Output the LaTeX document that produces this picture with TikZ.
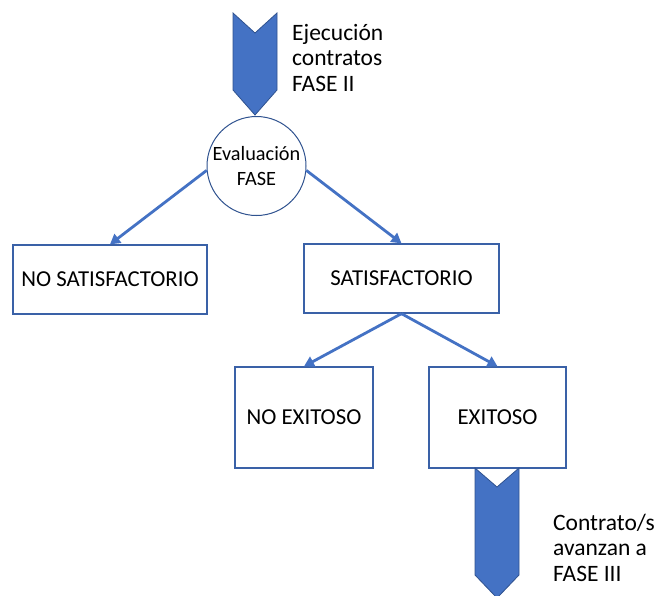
\documentclass[tikz,border=0pt]{standalone}
\usepackage{fontspec}
\setmainfont{Carlito}
\usetikzlibrary{arrows.meta}
\definecolor{oblue}{HTML}{4472C4}
\definecolor{odark}{HTML}{2F528F}
\begin{document}
\begin{tikzpicture}[x=1pt,y=-1pt,
  box/.style={draw=oblue!85!black,line width=1.3pt,fill=white,minimum width=#1,inner sep=0pt},
  boxtext/.style={font=\fontsize{22.8}{26}\selectfont},
  conn/.style={draw=oblue,line width=2.8pt,-{Triangle[length=10pt,width=11pt]}},
  chev/.style={fill=oblue,draw=odark,line width=0.8pt},
  side/.style={font=\fontsize{23.5}{25.5}\selectfont,align=left,anchor=west,inner sep=0pt}]
\useasboundingbox (0,0) rectangle (656,595);
\clip (0,0) rectangle (656,595);
% top chevron
\path[chev] (233,13) -- (255,33) -- (277,13) -- (277,90) -- (255,115) -- (233,90) -- cycle;
\node[side] (t1) at (292,57.5) {Ejecución\\contratos\\FASE II};
% circle
\node[circle,draw=odark,line width=1pt,fill=white,minimum size=99pt,inner sep=0pt,align=center,
      font=\fontsize{20.3}{25}\selectfont] (ev) at (256.5,166) {Evaluación\\FASE};
% boxes
\node[box=194pt,minimum height=69pt,boxtext] (nosat) at (110,279.5) {NO SATISFACTORIO};
\node[box=195pt,minimum height=69pt,boxtext] (sat) at (401.5,278.5) {SATISFACTORIO};
\node[box=138pt,minimum height=101pt,boxtext] (noex) at (304,417.5) {NO EXITOSO};
\node[box=137pt,minimum height=101pt,boxtext] (ex) at (497.5,417.5) {EXITOSO};
% connectors
\draw[conn] (ev.185) -- (nosat.north);
\draw[conn] (ev.-5) -- (sat.north);
\draw[conn] (sat.south) -- (noex.north);
\draw[conn] (sat.south) -- (ex.north);
% bottom chevron
\path[chev] (475,468) -- (497,487) -- (519,468) -- (519,575) -- (497,598) -- (475,575) -- cycle;
\node[side] (t2) at (553,547.5) {Contrato/s\\avanzan a\\FASE III};
\end{tikzpicture}
\end{document}
